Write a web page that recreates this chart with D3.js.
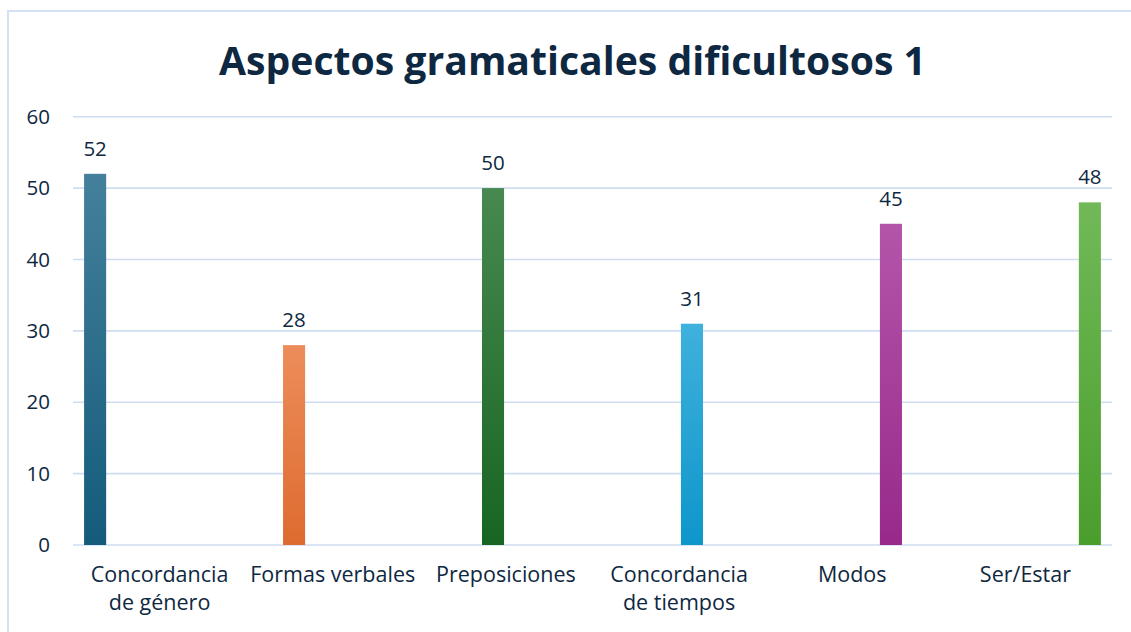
<!DOCTYPE html>
<html>
<head>
<meta charset="utf-8">
<script src="https://cdn.jsdelivr.net/npm/d3@7"></script>
<style>
  html, body { margin: 0; padding: 0; background: #ffffff; }
  svg { display: block; }
</style>
</head>
<body>
<svg id="chart" width="1131" height="632"></svg>
<script>
const title = "Aspectos gramaticales dificultosos 1";
const categories = ["Concordancia de género", "Formas verbales", "Preposiciones", "Concordancia de tiempos", "Modos", "Ser/Estar"];
const values = [52, 28, 50, 31, 45, 48];
const seriesColors = ["#156082", "#E97132", "#196B24", "#0F9ED5", "#A02B93", "#4EA72E"];
const yTicks = [0, 10, 20, 30, 40, 50, 60];

const W = 1131, H = 632;
const margin = { left: 73, right: 19, top: 116.7, bottom: 87 };
const svg = d3.select("#chart");
const textColor = "#0E2841";
const gridColor = "#CFDDF0";
const font = "'Open Sans', 'DejaVu Sans', sans-serif";

// chart border
svg.append("rect")
  .attr("x", 8).attr("y", 11)
  .attr("width", W + 20).attr("height", H + 20)
  .attr("fill", "none").attr("stroke", "#D4E1F4").attr("stroke-width", 2);

// gradients
const defs = svg.append("defs");
seriesColors.forEach((c, i) => {
  const g = defs.append("linearGradient")
    .attr("id", "grad" + i).attr("x1", 0).attr("y1", 0).attr("x2", 0).attr("y2", 1);
  g.append("stop").attr("offset", "0%").attr("stop-color", d3.interpolateRgb(c, "#ffffff")(0.2));
  g.append("stop").attr("offset", "100%").attr("stop-color", d3.color(c).darker(0.15).formatHex());
});

const x0 = d3.scaleBand()
  .domain(categories)
  .range([margin.left, W - margin.right])
  .paddingInner(0).paddingOuter(0);

const x1 = d3.scaleBand()
  .domain(d3.range(categories.length))
  .range([0, x0.bandwidth()])
  .paddingInner(0.144).paddingOuter(0.43);

const y = d3.scaleLinear()
  .domain([0, 60])
  .range([H - margin.bottom, margin.top]);

// gridlines
svg.append("g").selectAll("line")
  .data(yTicks)
  .join("line")
  .attr("x1", margin.left).attr("x2", W - margin.right)
  .attr("y1", d => y(d)).attr("y2", d => y(d))
  .attr("stroke", gridColor).attr("stroke-width", 1.6);

// y axis labels
const yAxis = d3.axisLeft(y).tickValues(yTicks).tickSize(0).tickPadding(0).tickFormat(d3.format("d"));
const yg = svg.append("g").attr("transform", `translate(50,0)`).call(yAxis);
yg.select(".domain").remove();
yg.selectAll("text")
  .attr("font-family", font).attr("font-size", 20.5).attr("fill", textColor);

// bars
const bars = categories.map((c, i) => ({ cat: c, series: i, value: values[i] }));
svg.append("g").selectAll("rect")
  .data(bars)
  .join("rect")
  .attr("x", d => x0(d.cat) + x1(d.series))
  .attr("width", x1.bandwidth())
  .attr("y", d => y(d.value))
  .attr("height", d => y(0) - y(d.value))
  .attr("fill", d => `url(#grad${d.series})`);

// data labels
svg.append("g").selectAll("text")
  .data(bars)
  .join("text")
  .attr("x", d => x0(d.cat) + x1(d.series) + x1.bandwidth() / 2)
  .attr("y", d => y(d.value) - 18)
  .attr("text-anchor", "middle")
  .attr("font-family", font).attr("font-size", 20.5).attr("fill", textColor)
  .text(d => d.value);

// x axis labels: labels of three or more words break after the first word
const xg = svg.append("g");
categories.forEach(c => {
  const cx = x0(c) + x0.bandwidth() / 2;
  const t = xg.append("text")
    .attr("text-anchor", "middle")
    .attr("font-family", font).attr("font-size", 21.5).attr("fill", textColor)
    .attr("x", cx)
    .attr("y", 582);
  const words = c.split(" ");
  const lines = words.length > 2 ? [words[0], words.slice(1).join(" ")] : [c];
  lines.forEach((l, i) => {
    t.append("tspan")
      .attr("x", cx)
      .attr("dy", i === 0 ? 0 : 28)
      .text(l);
  });
});

// title
svg.append("text")
  .attr("x", 572.5).attr("y", 75)
  .attr("text-anchor", "middle")
  .attr("font-family", font).attr("font-weight", "bold").attr("font-size", 40)
  .attr("fill", textColor)
  .attr("textLength", 707).attr("lengthAdjust", "spacingAndGlyphs")
  .text(title);
</script>
</body>
</html>
